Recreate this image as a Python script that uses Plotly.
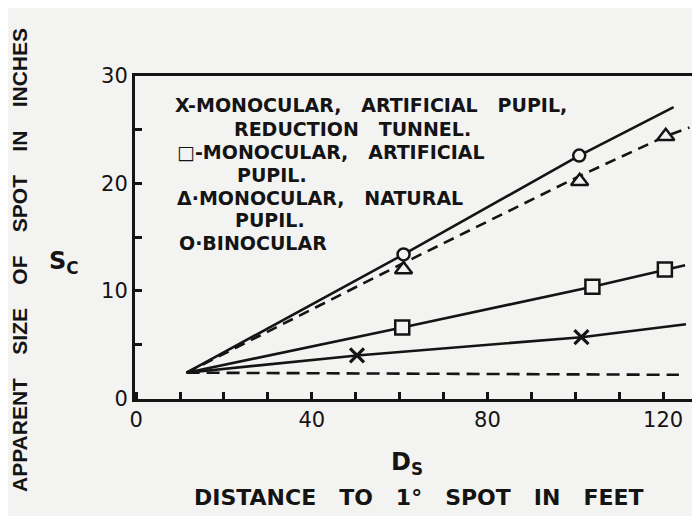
import plotly.graph_objects as go

# ---- data ----
x_mark_x = [50.3, 101.4]
x_mark_y = [4.0, 5.7]
x_line_x = [11.5, 50.3, 101.4, 125.2]
x_line_y = [2.4, 4.0, 5.7, 6.9]

sq_mark_x = [60.6, 103.9, 120.4]
sq_mark_y = [6.6, 10.4, 12.0]
sq_line_x = [11.5, 60.6, 103.9, 120.4, 125.0]
sq_line_y = [2.4, 6.6, 10.4, 12.0, 12.4]

tri_mark_x = [60.9, 101.0, 120.6]
tri_mark_y = [12.0, 20.2, 24.4]
tri_line_x = [11.5, 60.9, 101.0, 120.6, 126.0]
tri_line_y = [2.4, 12.6, 20.7, 24.4, 25.2]

circ_mark_x = [60.9, 100.9]
circ_mark_y = [13.4, 22.6]
circ_line_x = [11.5, 60.9, 100.9, 122.4]
circ_line_y = [2.4, 13.4, 22.6, 27.1]

flat_line_x = [11.5, 123.6]
flat_line_y = [2.4, 2.2]

x_ticks = [0, 40, 80, 120]
y_ticks = [0, 10, 20, 30]

legend_lines = [
    "X-MONOCULAR,   ARTIFICIAL   PUPIL,",
    "REDUCTION   TUNNEL.",
    "\u25a1-MONOCULAR,   ARTIFICIAL",
    "PUPIL.",
    "\u0394\u00b7MONOCULAR,   NATURAL",
    "PUPIL.",
    "O\u00b7BINOCULAR",
]

INK = "#141414"
BG = "#f3f3f1"
FONT = "Liberation Sans"
WIDE = "DejaVu Sans"

fig = go.Figure()
lw = 2.6

def line(x, y, dash="solid"):
    fig.add_trace(go.Scatter(x=x, y=y, mode="lines",
                             line=dict(color=INK, width=lw, dash=dash),
                             hoverinfo="skip", showlegend=False))

def marks(x, y, symbol, size):
    fig.add_trace(go.Scatter(x=x, y=y, mode="markers",
                             marker=dict(symbol=symbol, size=size, color=BG,
                                         line=dict(color=INK, width=2.5)),
                             showlegend=False))

line(flat_line_x, flat_line_y, dash="13px,7px")
line(x_line_x, x_line_y)
line(sq_line_x, sq_line_y)
line(tri_line_x, tri_line_y, dash="11px,7px")
line(circ_line_x, circ_line_y)

fig.add_trace(go.Scatter(x=x_mark_x, y=x_mark_y, mode="markers",
                         marker=dict(symbol="x-thin", size=14,
                                     line=dict(color=INK, width=3.2)),
                         showlegend=False))
marks(sq_mark_x, sq_mark_y, "square", 14)
marks(tri_mark_x, tri_mark_y, "triangle-up", 15)
marks(circ_mark_x, circ_mark_y, "circle", 12)

# The page body has an 8px default margin, so the figure is drawn 8px in.
OFF = 8
W, H = 700 - OFF, 516 - OFF
# plot area in window pixels
L, R, T, B = 135, 700, 76, 399

def px(x):
    return (x - L) / (R - L)

def py(y):
    return (B - y) / (B - T)

legend_pos = [(173, 105), (232, 129), (175, 152), (235, 175),
              (175, 198), (233, 220), (177, 243)]
annotations = []
for text, (lx, ly) in zip(legend_lines, legend_pos):
    annotations.append(dict(text=text, x=px(lx), y=py(ly), xref="paper", yref="paper",
                            xanchor="left", yanchor="middle", showarrow=False,
                            font=dict(family=WIDE, size=19, color=INK, weight="bold")))

annotations.append(dict(text="S<sub>C</sub>", x=px(64), y=py(262), xref="paper", yref="paper",
                        xanchor="center", yanchor="middle", showarrow=False,
                        font=dict(family=WIDE, size=24, color=INK, weight="bold")))
annotations.append(dict(text="D<sub>S</sub>", x=px(407), y=py(463), xref="paper", yref="paper",
                        xanchor="center", yanchor="middle", showarrow=False,
                        font=dict(family=WIDE, size=24, color=INK, weight="bold")))
annotations.append(dict(text="DISTANCE   TO   1°   SPOT   IN   FEET", x=px(418), y=py(497),
                        xref="paper", yref="paper", xanchor="center", yanchor="middle",
                        showarrow=False, font=dict(family=WIDE, size=22, color=INK, weight="bold")))
annotations.append(dict(text="APPARENT    SIZE    OF    SPOT    IN    INCHES", x=px(19), y=py(260),
                        xref="paper", yref="paper", xanchor="center", yanchor="middle",
                        textangle=-90, showarrow=False,
                        font=dict(family=FONT, size=21, color=INK, weight="bold")))

fig.update_layout(
    width=W, height=H,
    margin=dict(l=L - OFF, r=W - (R - OFF), t=T - OFF, b=H - (B - OFF), pad=0),
    paper_bgcolor=BG, plot_bgcolor=BG,
    font=dict(family=WIDE, color=INK),
    annotations=annotations,
    xaxis=dict(range=[-0.25, 128.4], tickvals=x_ticks, ticktext=[str(v) for v in x_ticks],
               ticks="inside", ticklen=7, tickwidth=2.5, tickcolor=INK,
               minor=dict(ticks="inside", dtick=10, ticklen=7, tickwidth=2.5, tickcolor=INK,
                          showgrid=False),
               showline=True, linewidth=3, linecolor=INK, mirror=True,
               showgrid=False, zeroline=False,
               tickfont=dict(family=WIDE, size=21, color=INK)),
    yaxis=dict(range=[-0.05, 30], tickvals=y_ticks, ticktext=[str(v) for v in y_ticks],
               ticks="inside", ticklen=7, tickwidth=2.5, tickcolor=INK,
               minor=dict(ticks="inside", dtick=5, ticklen=7, tickwidth=2.5, tickcolor=INK,
                          showgrid=False),
               showline=True, linewidth=3, linecolor=INK, mirror=False,
               showgrid=False, zeroline=False,
               tickfont=dict(family=WIDE, size=21, color=INK)),
)

fig.write_html("out.html")
